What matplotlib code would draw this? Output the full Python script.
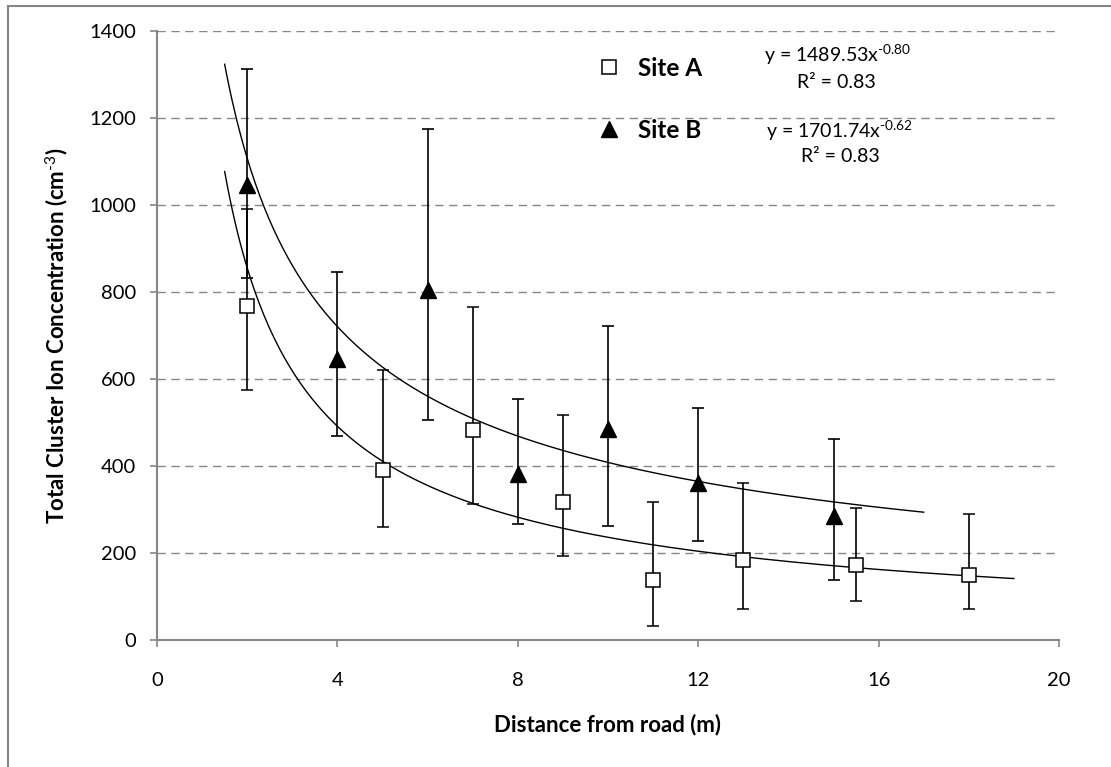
"""Cluster ion concentration vs distance from road, two sites with power-law fits."""

import matplotlib

matplotlib.use("Agg")
import matplotlib.pyplot as plt
import numpy as np
from matplotlib.lines import Line2D
from matplotlib.patches import Rectangle

plt.rcParams["font.family"] = ["Lato", "DejaVu Sans"]
plt.rcParams["mathtext.fontset"] = "custom"
plt.rcParams["mathtext.rm"] = "Lato"
plt.rcParams["mathtext.it"] = "Lato:italic"
plt.rcParams["mathtext.bf"] = "Lato:bold"
plt.rcParams["axes.unicode_minus"] = False

# Site A (open squares)
a_x = [2, 5, 7, 9, 11, 13, 15.5, 18]
a_y = [768, 390, 482, 318, 138, 183, 172, 150]
a_lo = [575, 260, 312, 192, 32, 72, 90, 72]
a_hi = [990, 620, 765, 517, 317, 362, 303, 290]

# Site B (filled triangles)
b_x = [2, 4, 6, 8, 10, 12, 15]
b_y = [1045, 647, 805, 382, 484, 360, 285]
b_lo = [832, 468, 506, 267, 262, 228, 138]
b_hi = [1312, 847, 1175, 554, 722, 533, 462]

# power-law trend lines y = k * x^p (coefficients printed on the chart)
a_fit = (1489.53, -0.80, 1.5, 19.0)
b_fit = (1701.74, -0.62, 1.5, 17.0)

GRAY = "#868686"

fig = plt.figure(figsize=(11.11, 7.67), dpi=100)
ax = fig.add_axes([157 / 1111, 1 - 640 / 767, (1059 - 157) / 1111, (640 - 31) / 767])

# outer chart frame (partially cropped in the reference)
fig.patches.append(
    Rectangle((8 / 1111, -0.1), 2.0, (1 - 6 / 767) + 0.1,
              transform=fig.transFigure, fill=False, edgecolor=GRAY, lw=1.5)
)

for k, p, x0, x1 in (a_fit, b_fit):
    xs = np.linspace(x0, x1, 300)
    ax.plot(xs, k * xs ** p, color="black", lw=1.0, zorder=2)

ay = np.array(a_y)
by = np.array(b_y)
ax.errorbar(b_x, b_y, yerr=[by - np.array(b_lo), np.array(b_hi) - by],
            fmt="^", ms=12, mfc="black", mec="black", ecolor="black",
            elinewidth=1.2, capsize=4.5, capthick=1.2, zorder=3)
ax.errorbar(a_x, a_y, yerr=[ay - np.array(a_lo), np.array(a_hi) - ay],
            fmt="s", ms=10, mfc="white", mec="black", mew=1.1, ecolor="black",
            elinewidth=1.2, capsize=4.5, capthick=1.2, zorder=4)

ax.set_xlim(0, 20)
ax.set_ylim(0, 1400)
ax.set_xticks(range(0, 21, 4))
ax.set_yticks(range(0, 1401, 200))
for s in ("top", "right"):
    ax.spines[s].set_visible(False)
for s in ("left", "bottom"):
    ax.spines[s].set_color(GRAY)
    ax.spines[s].set_linewidth(1.5)
ax.tick_params(axis="both", direction="out", length=5, color=GRAY, width=1.2,
               labelsize=14.5)
ax.tick_params(axis="x", pad=18)
ax.tick_params(axis="y", pad=10)

for yv in range(200, 1401, 200):
    ax.axhline(yv, color=GRAY, lw=1.0, ls=(0, (6, 4)), zorder=1)

ax.set_xlabel("Distance from road (m)", fontsize=16, fontweight="bold", labelpad=18)
ax.set_ylabel("Total Cluster Ion Concentration (cm$^{\\text{-3}}$)",
              fontsize=16, fontweight="bold", labelpad=14)

handles = [
    Line2D([], [], ls="none", marker="s", ms=10, mfc="white", mec="black", mew=1.1),
    Line2D([], [], ls="none", marker="^", ms=12, mfc="black", mec="black"),
]
ax.legend(handles, ["Site A", "Site B"], loc="upper left",
          bbox_to_anchor=(597 / 1111, 1 - 57 / 767), bbox_transform=fig.transFigure,
          frameon=False, prop={"weight": "bold", "size": 17.5},
          handlelength=1.0, handletextpad=0.7, labelspacing=1.6,
          borderaxespad=0, borderpad=0)

eq = {"ha": "center", "va": "center", "fontsize": 14, "transform": fig.transFigure}
fig.text(838 / 1111, 1 - 55 / 767, "y = 1489.53x$^{\\text{-0.80}}$", **eq)
fig.text(836 / 1111, 1 - 83 / 767, "R² = 0.83", **eq)
fig.text(840 / 1111, 1 - 131 / 767, "y = 1701.74x$^{\\text{-0.62}}$", **eq)
fig.text(840 / 1111, 1 - 157 / 767, "R² = 0.83", **eq)

fig.savefig("out.png", dpi=100)
